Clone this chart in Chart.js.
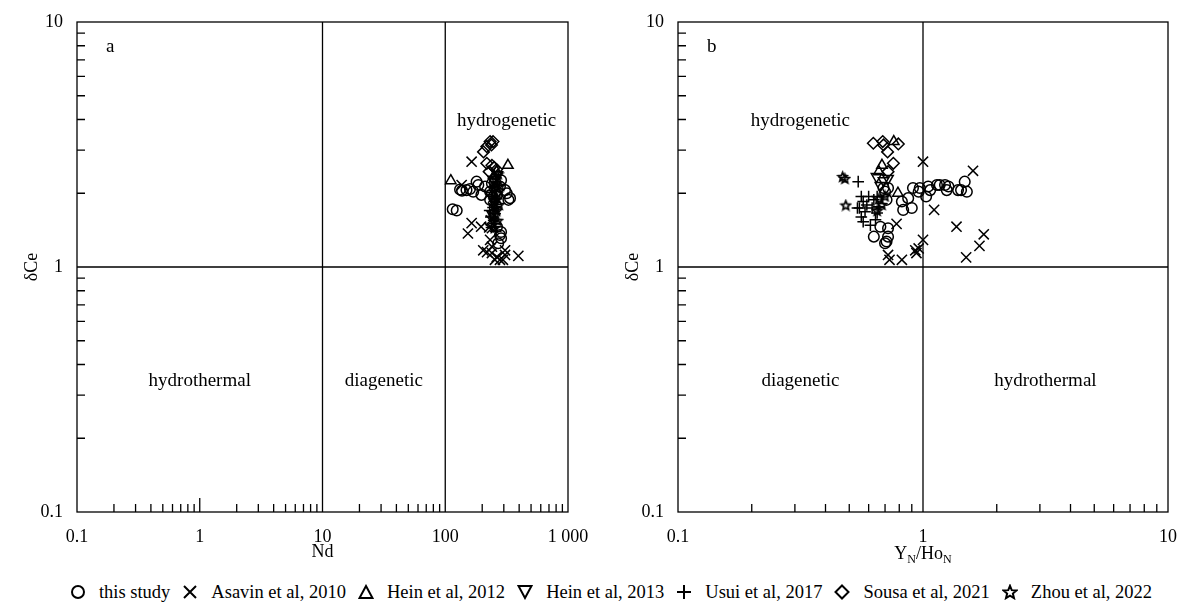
<!DOCTYPE html>
<html><head><meta charset="utf-8">
<script src="https://cdn.jsdelivr.net/npm/chart.js@4.4.1/dist/chart.umd.min.js"></script>
<style>
html,body{margin:0;padding:0;background:#fff;width:1180px;height:608px;overflow:hidden;font-family:'Liberation Serif','Times New Roman',serif;}
#ca{position:absolute;left:0;top:0;}
#cb{position:absolute;left:590px;top:0;}
#legend{position:absolute;left:42px;top:580px;width:1138px;height:24px;display:flex;justify-content:center;align-items:center;font-size:18.5px;color:#000;}
.item{display:flex;align-items:center;margin:0 6px;white-space:nowrap;}
.item svg{margin-right:13px;}
</style></head>
<body>
<canvas id="ca" width="590" height="570"></canvas>
<canvas id="cb" width="590" height="570"></canvas>
<div id="legend"></div>
<script>
// ---------- DATA ----------
const seriesNames = ['this study','Asavin et al, 2010','Hein et al, 2012','Hein et al, 2013','Usui et al, 2017','Sousa et al, 2021','Zhou et al, 2022'];

// Panel a: [Nd, δCe]
const thisStudyA = [[115,1.72],[124,1.70],[132,2.07],[137,2.05],[149,2.06],[159,2.08],[180,2.23],[186,2.16],[169,2.03],[211,2.13],[254,2.23],[279,2.13],[307,2.06],[317,2.00],[337,1.91],[327,1.88],[232,2.03],[264,1.97],[197,1.97],[240,2.19],[285,2.26],[232,1.88],[264,1.46],[279,1.35],[285,1.31],[270,1.25],[285,1.39]];
const asavinA = [[164,2.69],[136,2.16],[164,1.51],[196,1.46],[153,1.37],[232,1.29],[240,1.21],[204,1.17],[219,1.15],[240,1.14],[263,1.10],[254,1.07],[279,1.07],[307,1.12],[295,1.07],[394,1.11],[307,1.17],[250,1.62],[245,1.75],[260,1.90],[235,1.55],[228,1.45],[240,1.44]];
const hein2012A = [[111,2.25],[324,2.60],[262,2.45],[250,2.35],[245,2.00]];
const hein2013A = [[245,2.28],[255,2.10],[236,1.96],[266,2.38],[250,1.84],[240,1.65]];
const usuiA = [[240,1.95],[250,1.85],[245,1.75],[230,1.70],[255,1.65],[260,1.80],[235,1.60],[248,1.55],[262,1.90],[242,2.05],[238,1.45],[252,1.50],[258,1.40]];
const sousaA = [[205,2.95],[218,3.10],[232,3.25],[245,3.25],[238,3.15],[218,2.65],[240,2.60],[250,2.55],[262,2.50],[228,2.45],[250,2.30]];
const zhouA = [[255,2.30],[260,2.20],[248,2.10],[265,2.00],[250,1.90],[258,1.75],[245,1.60],[262,1.70],[270,2.40],[252,1.45],[275,1.80],[280,2.15],[268,1.55]];

// Panel b: [YN/HoN, δCe]
const thisStudyB = [[0.69,2.10],[0.72,2.10],[0.70,2.03],[0.71,1.88],[0.82,1.85],[0.87,1.91],[0.83,1.71],[0.90,1.74],[0.91,2.10],[0.96,2.03],[0.97,2.10],[1.03,1.94],[1.05,2.13],[1.07,2.06],[1.14,2.16],[1.17,2.16],[1.23,2.16],[1.27,2.13],[1.25,2.06],[1.39,2.06],[1.43,2.06],[1.48,2.23],[1.51,2.03],[0.72,1.44],[0.67,1.46],[0.72,1.33],[0.63,1.33],[0.70,1.25],[0.71,1.27]];
const asavinB = [[1.00,2.69],[1.60,2.47],[0.78,1.50],[1.11,1.71],[1.37,1.46],[1.77,1.36],[1.70,1.22],[1.50,1.095],[1.00,1.29],[0.93,1.17],[0.94,1.14],[0.96,1.19],[0.72,1.12],[0.73,1.07],[0.82,1.07]];
const hein2012B = [[0.76,3.25],[0.68,2.60],[0.79,2.00],[0.66,2.45]];
const hein2013B = [[0.646,2.34],[0.72,2.30],[0.69,2.25],[0.67,2.15]];
const usuiB = [[0.544,2.23],[0.56,1.94],[0.57,1.85],[0.55,1.74],[0.58,1.68],[0.56,1.60],[0.57,1.53],[0.61,1.48],[0.59,1.79],[0.63,1.88],[0.62,1.74],[0.65,1.66],[0.64,1.56],[0.66,1.76],[0.54,1.74],[0.60,1.94],[0.65,1.94]];
const sousaB = [[0.627,3.20],[0.685,3.25],[0.69,3.15],[0.717,2.95],[0.793,3.18],[0.757,2.65],[0.72,2.45]];
const zhouB = [[0.47,2.34],[0.48,2.30],[0.484,1.79],[0.66,1.90],[0.68,1.80],[0.65,1.70],[0.70,1.95]];

// Axes
const xTickValuesA = [0.1,1,10,100,1000];
const xTickLabelsA = ['0.1','1','10','100','1 000'];
const xTickValuesB = [0.1,1,10];
const xTickLabelsB = ['0.1','1','10'];
const yTickValues = [0.1,1,10];
const yTickLabels = ['0.1','1','10'];

// ---------- STYLE ----------
const FAMILY = "'Liberation Serif', 'Times New Roman', serif";
const FONT = {family: FAMILY, size: 18};
const INK = '#000';

function starCanvas(size, lw) {
  const c = document.createElement('canvas'); c.width = c.height = size;
  const g = c.getContext('2d'); g.beginPath();
  const cx = size/2, cy = size/2 + 0.6, R = size/2 - lw, r = R*0.45;
  for (let i = 0; i < 10; i++) {
    const a = -Math.PI/2 + i*Math.PI/5, rr = i%2 ? r : R;
    g.lineTo(cx + rr*Math.cos(a), cy + rr*Math.sin(a));
  }
  g.closePath(); g.lineWidth = lw; g.strokeStyle = INK; g.stroke();
  return c;
}
const STAR = starCanvas(13, 1.7);

const markerStyles = [
  {pointStyle:'circle', pointRadius:5.3},
  {pointStyle:'crossRot', pointRadius:7.2},
  {pointStyle:'triangle', pointRadius:6},
  {pointStyle:'triangle', pointRadius:6, pointRotation:180},
  {pointStyle:'cross', pointRadius:5.8},
  {pointStyle:'rectRot', pointRadius:5.8},
  {pointStyle:STAR, pointRadius:6},
];

function makeDatasets(lists) {
  return lists.map((arr, i) => Object.assign({
    label: seriesNames[i],
    data: arr.map(([x, y]) => ({x, y})),
    borderColor: INK, backgroundColor: 'rgba(0,0,0,0)',
    pointBorderWidth: 1.5, showLine: false
  }, markerStyles[i]));
}

const decor = {
  id: 'decor',
  beforeDatasetsDraw(chart, args, o) {
    const {ctx, chartArea: ca, scales: {x, y}} = chart;
    ctx.save();
    ctx.strokeStyle = INK; ctx.lineWidth = 1.3;
    ctx.strokeRect(ca.left, ca.top, ca.right - ca.left, ca.bottom - ca.top);
    ctx.beginPath();
    o.xDividers.forEach(v => { const p = x.getPixelForValue(v); ctx.moveTo(p, ca.top); ctx.lineTo(p, ca.bottom); });
    o.yDividers.forEach(v => { const p = y.getPixelForValue(v); ctx.moveTo(ca.left, p); ctx.lineTo(ca.right, p); });
    // minor ticks (inward)
    for (let d = x.min; d < x.max * 0.999; d *= 10) {
      for (let m = 2; m <= 9; m++) { const p = x.getPixelForValue(m*d); ctx.moveTo(p, ca.bottom); ctx.lineTo(p, ca.bottom - 8); }
    }
    for (let d = y.min; d < y.max * 0.999; d *= 10) {
      for (let m = 2; m <= 9; m++) { const p = y.getPixelForValue(m*d); ctx.moveTo(ca.left, p); ctx.lineTo(ca.left + 8, p); }
    }
    o.majorX.forEach(v => { const p = x.getPixelForValue(v); ctx.moveTo(p, ca.bottom); ctx.lineTo(p, ca.bottom - 14); });
    ctx.stroke();
    // region labels
    ctx.fillStyle = INK; ctx.font = '19px ' + FAMILY;
    ctx.textAlign = 'center'; ctx.textBaseline = 'middle';
    o.regions.forEach(r => ctx.fillText(r.text, x.getPixelForValue(r.x), y.getPixelForValue(r.y)));
    ctx.textAlign = 'left';
    ctx.fillText(o.letter, ca.left + 29, ca.top + 25);
    // custom x title with subscripts
    if (o.xTitleParts) {
      const base = x.bottom - 11;
      const parts = o.xTitleParts.map(p => ({t: p[0], sub: p[1]}));
      let w = 0;
      parts.forEach(p => { ctx.font = (p.sub ? '12px ' : '18px ') + FAMILY; p.w = ctx.measureText(p.t).width; w += p.w; });
      let cx = (ca.left + ca.right) / 2 - w / 2;
      ctx.textBaseline = 'alphabetic';
      parts.forEach(p => {
        ctx.font = (p.sub ? '12px ' : '18px ') + FAMILY;
        ctx.fillText(p.t, cx, p.sub ? base + 4 : base);
        cx += p.w;
      });
    }
    ctx.restore();
  }
};

function logAxis(values, labels, min, max, extra) {
  return Object.assign({
    type: 'logarithmic', min, max,
    grid: {display: false, drawTicks: false},
    border: {display: false},
    afterBuildTicks: s => { s.ticks = values.map(v => ({value: v})); },
    ticks: {autoSkip: false, maxRotation: 0, color: INK, font: FONT, padding: 14,
            callback: (v) => labels[values.indexOf(v)] ?? ''}
  }, extra);
}

function makePanel(id, lists, xVals, xLabels, xmin, xmax, xTitle, yWidth, yTitlePad, rightPad, deco) {
  return new Chart(document.getElementById(id), {
    type: 'scatter',
    data: {datasets: makeDatasets(lists)},
    options: {
      responsive: false, animation: false, devicePixelRatio: 1,
      layout: {padding: {left: 0, top: 22, right: rightPad, bottom: 0}},
      plugins: {legend: {display: false}, tooltip: {enabled: false}, decor: deco},
      scales: {
        x: logAxis(xVals, xLabels, xmin, xmax, {
          position: 'bottom',
          afterFit: s => { s.height = 58; s.paddingLeft = 0; s.paddingRight = 0; },
          title: {display: !!xTitle, text: xTitle || '', color: INK, font: FONT, padding: {top: 0, bottom: 7}}
        }),
        y: logAxis(yTickValues, yTickLabels, 0.1, 10, {
          position: 'left',
          afterFit: s => { s.width = yWidth; s.paddingTop = 0; s.paddingBottom = 0; },
          title: {display: true, text: 'δCe', color: INK, font: FONT, padding: {top: yTitlePad, bottom: 0}}
        })
      }
    },
    plugins: [decor]
  });
}

makePanel('ca', [thisStudyA, asavinA, hein2012A, hein2013A, usuiA, sousaA, zhouA],
  xTickValuesA, xTickLabelsA, 0.1, 1000, 'Nd', 77, 21, 22,
  {xDividers: [10, 100], yDividers: [1], majorX: [1], letter: 'a',
   regions: [{text: 'hydrogenetic', x: 316, y: 3.95}, {text: 'hydrothermal', x: 1, y: 0.342}, {text: 'diagenetic', x: 31.6, y: 0.342}]});

makePanel('cb', [thisStudyB, asavinB, hein2012B, hein2013B, usuiB, sousaB, zhouB],
  xTickValuesB, xTickLabelsB, 0.1, 10, null, 88, 32, 12,
  {xDividers: [1], yDividers: [1], majorX: [], letter: 'b',
   xTitleParts: [['Y', false], ['N', true], ['/Ho', false], ['N', true]],
   regions: [{text: 'hydrogenetic', x: 0.316, y: 3.95}, {text: 'diagenetic', x: 0.316, y: 0.342}, {text: 'hydrothermal', x: 3.16, y: 0.342}]});

// ---------- LEGEND ----------
const S = 'fill="none" stroke="#000" stroke-width="2"';
const legendMarks = [
  `<circle cx="8" cy="8" r="6" ${S}/>`,
  `<path d="M2 2L14 14M14 2L2 14" ${S}/>`,
  `<polygon points="8,2 14.5,14 1.5,14" ${S}/>`,
  `<polygon points="1.5,2 14.5,2 8,14" ${S}/>`,
  `<path d="M8 1V15M1 8H15" ${S}/>`,
  `<polygon points="8,1.5 14.5,8 8,14.5 1.5,8" ${S}/>`,
  (() => { let p = []; for (let i = 0; i < 10; i++) { const a = -Math.PI/2 + i*Math.PI/5, r = i%2 ? 3 : 6.8; p.push((8 + r*Math.cos(a)).toFixed(2) + ',' + (8.6 + r*Math.sin(a)).toFixed(2)); } return `<polygon points="${p.join(' ')}" ${S}/>`; })()
];
document.getElementById('legend').innerHTML = seriesNames.map((n, i) =>
  `<div class="item"><svg width="16" height="16" viewBox="0 0 16 16">${legendMarks[i]}</svg><span>${n}</span></div>`).join('');
</script>
</body></html>
